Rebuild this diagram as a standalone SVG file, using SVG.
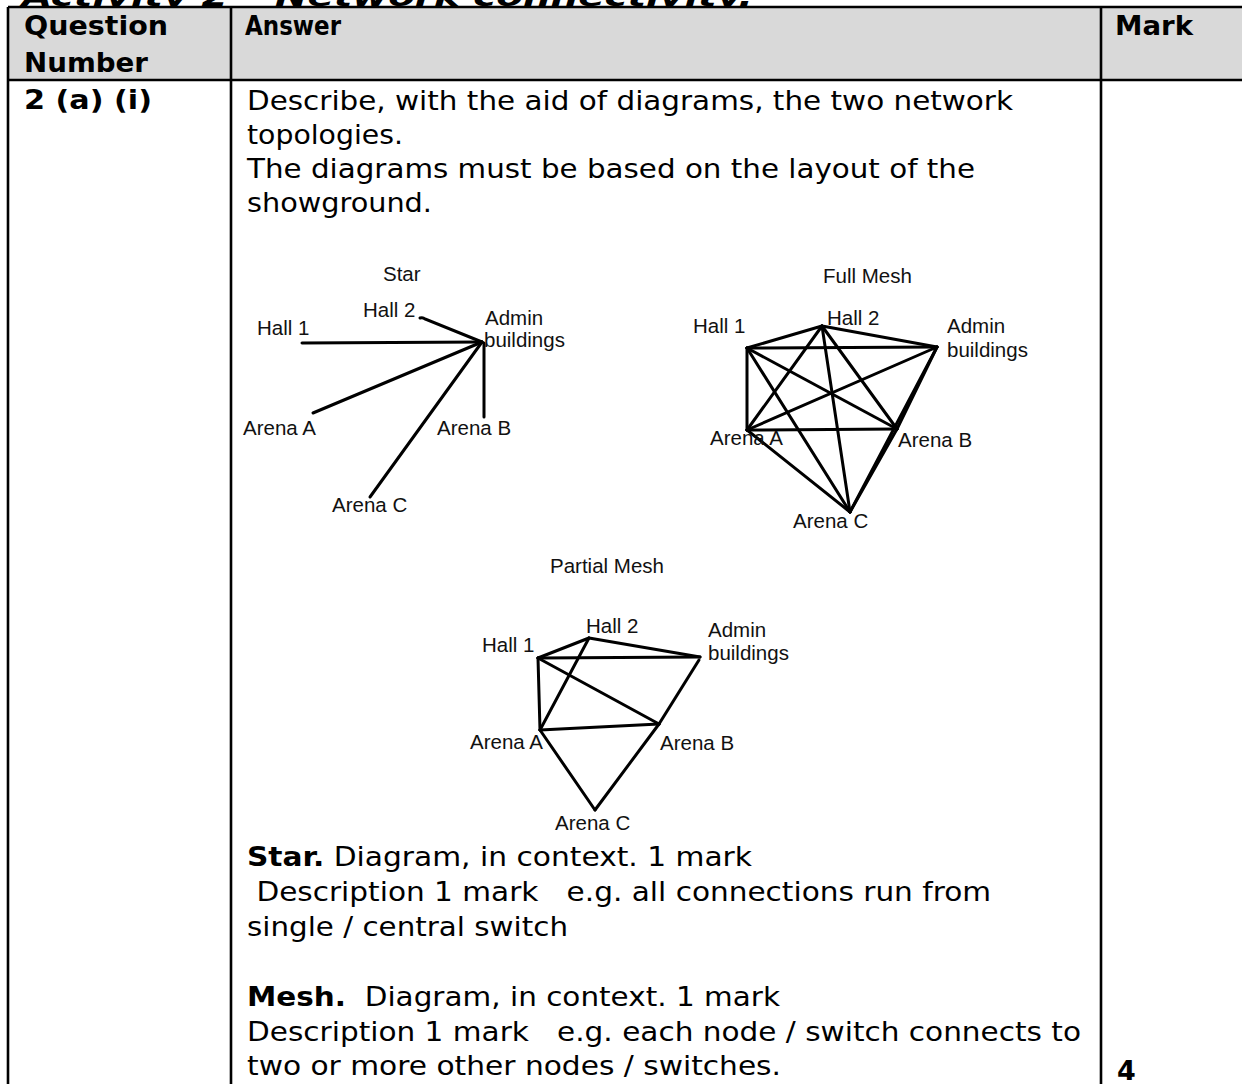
<svg xmlns="http://www.w3.org/2000/svg" width="1242" height="1084" viewBox="0 0 1242 1084">
<style>
.body{font-family:"DejaVu Sans","Verdana",sans-serif;font-size:27px;fill:#000;white-space:pre}
.b{font-weight:bold}
.lbl{font-family:"Liberation Sans","Arial",sans-serif;font-size:20.5px;fill:#111}
.grid{stroke:#000;stroke-width:2.6;fill:none}
.edge{stroke:#000;stroke-width:3;stroke-linecap:round;fill:none}
</style>
<rect width="1242" height="1084" fill="#fff"/>
<text class="body b" x="22" y="6" font-style="italic" textLength="731" lengthAdjust="spacingAndGlyphs">Activity 2 – Network connectivity.</text>

<g id="table">
  <rect x="8" y="7" width="1240" height="73" fill="#d9d9d9"/>
  <line class="grid" x1="8" y1="7" x2="1242" y2="7"/>
  <line class="grid" x1="8" y1="80" x2="1242" y2="80"/>
  <line class="grid" x1="8" y1="7" x2="8" y2="1084"/>
  <line class="grid" x1="231" y1="7" x2="231" y2="1084"/>
  <line class="grid" x1="1101" y1="7" x2="1101" y2="1084"/>
</g>

<g id="header">
  <text class="body b" x="24" y="35" textLength="144" lengthAdjust="spacingAndGlyphs">Question</text>
  <text class="body b" x="24" y="72" textLength="124" lengthAdjust="spacingAndGlyphs">Number</text>
  <text class="body b" x="245" y="35" textLength="96" lengthAdjust="spacingAndGlyphs">Answer</text>
  <text class="body b" x="1115" y="35" textLength="78" lengthAdjust="spacingAndGlyphs">Mark</text>
</g>

<g id="question-number">
  <text class="body b" x="24" y="109" textLength="128" lengthAdjust="spacingAndGlyphs">2 (a) (i)</text>
</g>

<g id="answer-intro">
  <text class="body" x="247" y="110" textLength="766" lengthAdjust="spacingAndGlyphs">Describe, with the aid of diagrams, the two network</text>
  <text class="body" x="247" y="144" textLength="156" lengthAdjust="spacingAndGlyphs">topologies.</text>
  <text class="body" x="247" y="178" textLength="728" lengthAdjust="spacingAndGlyphs">The diagrams must be based on the layout of the</text>
  <text class="body" x="247" y="212" textLength="185" lengthAdjust="spacingAndGlyphs">showground.</text>
</g>

<!-- Star diagram -->
<g id="star">
  <text class="lbl" x="383" y="281">Star</text>
  <g id="star-connectors">
    <line class="edge" x1="302" y1="343" x2="482" y2="342"/>
    <path class="edge" d="M420 318 Q423 317 425 319 L482 342"/>
    <line class="edge" x1="313" y1="413" x2="482" y2="342"/>
    <line class="edge" x1="484" y1="343" x2="484" y2="417"/>
    <line class="edge" x1="370" y1="497" x2="482" y2="342"/>
  </g>
  <g id="star-hall1"><text class="lbl" x="257" y="335">Hall 1</text></g>
  <g id="star-hall2"><text class="lbl" x="363" y="317">Hall 2</text></g>
  <g id="star-admin"><text class="lbl" x="485" y="325">Admin</text><text class="lbl" x="484" y="347">buildings</text></g>
  <g id="star-arenaA"><text class="lbl" x="243" y="435">Arena A</text></g>
  <g id="star-arenaB"><text class="lbl" x="437" y="435">Arena B</text></g>
  <g id="star-arenaC"><text class="lbl" x="332" y="512">Arena C</text></g>
</g>

<!-- Full mesh diagram -->
<g id="fullmesh">
  <text class="lbl" x="823" y="283">Full Mesh</text>
  <g id="fullmesh-connectors">
    <line class="edge" x1="747" y1="348" x2="822" y2="326"/>
    <line class="edge" x1="747" y1="348" x2="937" y2="347"/>
    <line class="edge" x1="747" y1="348" x2="747" y2="430"/>
    <line class="edge" x1="747" y1="348" x2="897" y2="429"/>
    <line class="edge" x1="747" y1="348" x2="850" y2="512"/>
    <line class="edge" x1="822" y1="326" x2="937" y2="347"/>
    <line class="edge" x1="822" y1="326" x2="747" y2="430"/>
    <line class="edge" x1="822" y1="326" x2="897" y2="429"/>
    <line class="edge" x1="822" y1="326" x2="850" y2="512"/>
    <line class="edge" x1="937" y1="347" x2="747" y2="430"/>
    <line class="edge" x1="937" y1="347" x2="897" y2="429"/>
    <line class="edge" x1="937" y1="347" x2="850" y2="512"/>
    <line class="edge" x1="747" y1="430" x2="897" y2="429"/>
    <line class="edge" x1="747" y1="430" x2="850" y2="512"/>
    <line class="edge" x1="897" y1="429" x2="850" y2="512"/>
  </g>
  <g id="fm-hall1"><text class="lbl" x="693" y="333">Hall 1</text></g>
  <g id="fm-hall2"><text class="lbl" x="827" y="325">Hall 2</text></g>
  <g id="fm-admin"><text class="lbl" x="947" y="333">Admin</text><text class="lbl" x="947" y="357">buildings</text></g>
  <g id="fm-arenaA"><text class="lbl" x="710" y="445">Arena A</text></g>
  <g id="fm-arenaB"><text class="lbl" x="898" y="447">Arena B</text></g>
  <g id="fm-arenaC"><text class="lbl" x="793" y="528">Arena C</text></g>
</g>

<!-- Partial mesh diagram -->
<g id="partialmesh">
  <text class="lbl" x="550" y="573">Partial Mesh</text>
  <g id="partialmesh-connectors">
    <line class="edge" x1="538" y1="658" x2="589" y2="638"/>
    <line class="edge" x1="589" y1="638" x2="700" y2="657"/>
    <line class="edge" x1="538" y1="658" x2="700" y2="657"/>
    <line class="edge" x1="538" y1="658" x2="540" y2="730"/>
    <line class="edge" x1="589" y1="638" x2="540" y2="730"/>
    <line class="edge" x1="538" y1="658" x2="659" y2="724"/>
    <line class="edge" x1="540" y1="730" x2="659" y2="724"/>
    <line class="edge" x1="699" y1="660" x2="659" y2="724"/>
    <line class="edge" x1="659" y1="724" x2="595" y2="810"/>
    <line class="edge" x1="540" y1="730" x2="595" y2="810"/>
  </g>
  <g id="pm-hall1"><text class="lbl" x="482" y="652">Hall 1</text></g>
  <g id="pm-hall2"><text class="lbl" x="586" y="633">Hall 2</text></g>
  <g id="pm-admin"><text class="lbl" x="708" y="637">Admin</text><text class="lbl" x="708" y="660">buildings</text></g>
  <g id="pm-arenaA"><text class="lbl" x="470" y="749">Arena A</text></g>
  <g id="pm-arenaB"><text class="lbl" x="660" y="750">Arena B</text></g>
  <g id="pm-arenaC"><text class="lbl" x="555" y="830">Arena C</text></g>
</g>

<g id="answer-marks">
  <text class="body" x="247" y="866" textLength="505" lengthAdjust="spacingAndGlyphs"><tspan font-weight="bold">Star.</tspan> Diagram, in context. 1 mark</text>
  <text class="body" x="247" y="901" textLength="744" lengthAdjust="spacingAndGlyphs"> Description 1 mark   e.g. all connections run from</text>
  <text class="body" x="247" y="936" textLength="321" lengthAdjust="spacingAndGlyphs">single / central switch</text>
  <text class="body" x="247" y="1006" textLength="533" lengthAdjust="spacingAndGlyphs"><tspan font-weight="bold">Mesh.</tspan>  Diagram, in context. 1 mark</text>
  <text class="body" x="247" y="1041" textLength="834" lengthAdjust="spacingAndGlyphs">Description 1 mark   e.g. each node / switch connects to</text>
  <text class="body" x="247" y="1075" textLength="534" lengthAdjust="spacingAndGlyphs">two or more other nodes / switches.</text>
</g>

<g id="mark">
  <text class="body b" x="1117" y="1080">4</text>
</g>
</svg>
